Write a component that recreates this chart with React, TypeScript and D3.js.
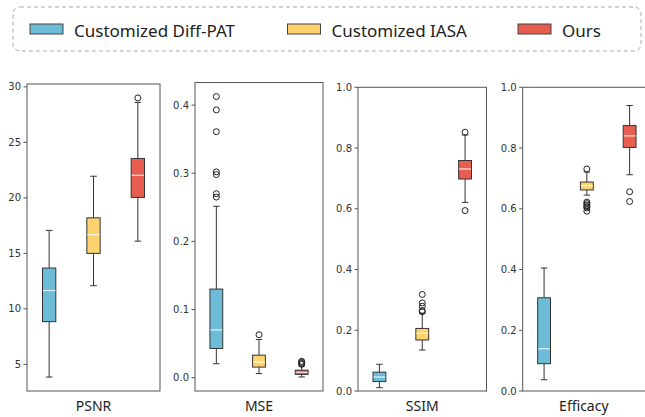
import { useEffect, useRef } from 'react'
import * as d3 from 'd3'

const methods = ['Customized Diff-PAT', 'Customized IASA', 'Ours']
const colors = ['#6cbcd8', '#fed26e', '#e75d50']
const metrics = ['PSNR', 'MSE', 'SSIM', 'Efficacy']

// [low whisker, q1, median, q3, high whisker] per method
const psnrStats = [
  [3.86, 8.85, 11.64, 13.68, 17.07],
  [12.09, 15.0, 16.68, 18.2, 21.95],
  [16.1, 20.04, 22.04, 23.55, 28.6],
]
const psnrFliers = [[], [], [29.0]]

const mseStats = [
  [0.0204, 0.0428, 0.07, 0.13, 0.2515],
  [0.006, 0.0155, 0.023, 0.033, 0.056],
  [0.001, 0.0048, 0.008, 0.011, 0.017],
]
const mseFliers = [
  [0.265, 0.27, 0.298, 0.302, 0.361, 0.393, 0.4126],
  [0.063],
  [0.0195, 0.021, 0.0225, 0.024],
]

const ssimStats = [
  [0.011, 0.031, 0.046, 0.062, 0.088],
  [0.135, 0.168, 0.19, 0.206, 0.256],
  [0.621, 0.698, 0.731, 0.759, 0.843],
]
const ssimFliers = [[], [0.261, 0.265, 0.279, 0.29, 0.318], [0.852, 0.594]]

const efficacyStats = [
  [0.037, 0.09, 0.139, 0.307, 0.405],
  [0.645, 0.662, 0.676, 0.688, 0.721],
  [0.712, 0.802, 0.84, 0.874, 0.94],
]
const efficacyFliers = [
  [],
  [0.731, 0.622, 0.617, 0.612, 0.607, 0.603, 0.592],
  [0.656, 0.624],
]

const psnrTicks = [5, 10, 15, 20, 25, 30]
const mseTicks = [0, 0.1, 0.2, 0.3, 0.4]
const unitTicks = [0, 0.2, 0.4, 0.6, 0.8, 1.0]

const panelData = [
  { stats: psnrStats, fliers: psnrFliers, ticks: psnrTicks, fmt: d3.format('d'), fixed: null },
  { stats: mseStats, fliers: mseFliers, ticks: mseTicks, fmt: d3.format('.1f'), fixed: null },
  { stats: ssimStats, fliers: ssimFliers, ticks: unitTicks, fmt: d3.format('.1f'), fixed: [0, 1] },
  { stats: efficacyStats, fliers: efficacyFliers, ticks: unitTicks, fmt: d3.format('.1f'), fixed: [0, 1] },
]

// panel frames in pixels
const frames = [
  { left: 27, right: 160, top: 84 },
  { left: 195, right: 323, top: 82.5 },
  { left: 358, right: 486.5, top: 87.3 },
  { left: 522.7, right: 651, top: 87.3 },
]
const BOTTOM = 391

export default function App() {
  const svgRef = useRef<SVGSVGElement>(null)

  useEffect(() => {
    const svg = d3.select(svgRef.current)
    svg.selectAll('*').remove()

    // Legend
    const leg = svg.append('g')
    leg.append('rect')
      .attr('x', 13).attr('y', 7).attr('width', 628).attr('height', 44)
      .attr('rx', 7)
      .attr('fill', 'none').attr('stroke', '#aaa').attr('stroke-dasharray', '4,3')
    const legX = [30, 287.5, 518]
    methods.forEach((m, i) => {
      leg.append('rect')
        .attr('x', legX[i]).attr('y', 24).attr('width', 33).attr('height', 10)
        .attr('fill', colors[i]).attr('stroke', '#444').attr('stroke-width', 1)
      leg.append('text')
        .attr('x', legX[i] + 44).attr('y', 36.5)
        .attr('font-family', '"Noto Sans", sans-serif')
        .attr('font-size', 17)
        .attr('fill', '#222')
        .text(m)
    })

    panelData.forEach((p, k) => {
      const fr = frames[k]
      const g = svg.append('g')
      let domain = p.fixed
      if (!domain) {
        const all = p.stats.flat().concat(p.fliers.flat())
        const [lo, hi] = d3.extent(all) as [number, number]
        const pad = (hi - lo) * 0.05
        domain = [lo - pad, hi + pad]
      }
      const y = d3.scaleLinear().domain(domain).range([BOTTOM, fr.top])
      const x = d3.scaleLinear().domain([0.5, 3.5]).range([fr.left, fr.right])
      const bw = x(1.15) - x(0.85)
      const cw = bw / 2

      // frame
      g.append('rect')
        .attr('x', fr.left).attr('y', fr.top)
        .attr('width', fr.right - fr.left).attr('height', BOTTOM - fr.top)
        .attr('fill', 'none').attr('stroke', '#555').attr('stroke-width', 1)

      // ticks
      p.ticks.forEach(t => {
        g.append('line')
          .attr('x1', fr.left - 3.5).attr('x2', fr.left)
          .attr('y1', y(t)).attr('y2', y(t))
          .attr('stroke', '#555')
        g.append('text')
          .attr('x', fr.left - 6).attr('y', y(t) + 3.6)
          .attr('text-anchor', 'end')
          .attr('font-family', '"DejaVu Sans", sans-serif')
          .attr('font-size', 10)
          .attr('fill', '#333')
          .text(p.fmt(t))
      })

      // axis label
      g.append('text')
        .attr('x', (fr.left + Math.min(fr.right, 645 + 6)) / 2 - (k === 3 ? 3 : 0))
        .attr('y', 411)
        .attr('text-anchor', 'middle')
        .attr('font-family', '"Noto Sans", sans-serif')
        .attr('font-size', 14)
        .attr('fill', '#222')
        .text(metrics[k])

      p.stats.forEach((s, i) => {
        const cx = x(i + 1)
        const [lo, q1, med, q3, hi] = s
        // whiskers
        g.append('line').attr('x1', cx).attr('x2', cx).attr('y1', y(lo)).attr('y2', y(q1))
          .attr('stroke', '#333')
        g.append('line').attr('x1', cx).attr('x2', cx).attr('y1', y(q3)).attr('y2', y(hi))
          .attr('stroke', '#333')
        g.append('line').attr('x1', cx - cw / 2).attr('x2', cx + cw / 2).attr('y1', y(lo)).attr('y2', y(lo))
          .attr('stroke', '#333')
        g.append('line').attr('x1', cx - cw / 2).attr('x2', cx + cw / 2).attr('y1', y(hi)).attr('y2', y(hi))
          .attr('stroke', '#333')
        // box
        g.append('rect')
          .attr('x', cx - bw / 2).attr('y', y(q3))
          .attr('width', bw).attr('height', y(q1) - y(q3))
          .attr('fill', colors[i]).attr('stroke', '#333').attr('stroke-width', 1)
        g.append('line')
          .attr('x1', cx - bw / 2 + 0.5).attr('x2', cx + bw / 2 - 0.5)
          .attr('y1', y(med)).attr('y2', y(med))
          .attr('stroke', '#fff').attr('stroke-width', 1)
        // fliers
        p.fliers[i].forEach(v => {
          g.append('circle')
            .attr('cx', cx).attr('cy', y(v)).attr('r', 3)
            .attr('fill', 'none').attr('stroke', '#222').attr('stroke-width', 1)
        })
      })
    })
  }, [])

  return (
    <div style={{ position: 'absolute', left: 0, top: 0, background: '#fff' }}>
      <svg ref={svgRef} width={645} height={417} style={{ display: 'block' }} />
    </div>
  )
}
